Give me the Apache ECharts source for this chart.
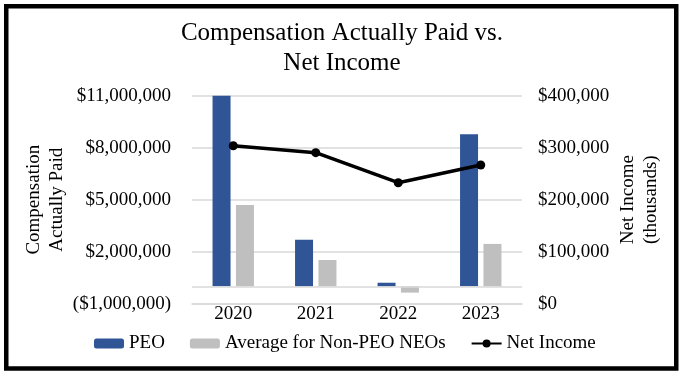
<!DOCTYPE html>
<html>
<head>
<meta charset="utf-8">
<script src="https://cdn.jsdelivr.net/npm/echarts@6/dist/echarts.min.js"></script>
<style>
html,body{margin:0;padding:0;background:#fff;}
#chart{width:681px;height:374px;}
</style>
</head>
<body>
<div id="chart"></div>
<script>
const categories = ['2020', '2021', '2022', '2023'];
const peoValues = [11000000, 2690000, 210000, 8780000];
const neoValues = [4700000, 1520000, -360000, 2450000];
const netIncomeValues = [303800, 290400, 232700, 266700];
const leftTicks = { min: -1000000, max: 11000000, interval: 3000000 };
const rightTicks = { min: 0, max: 400000, interval: 100000 };

const FONT = '"Liberation Serif", "Times New Roman", serif';
const fmtMoney = v => {
  const s = '$' + Math.abs(v).toLocaleString('en-US');
  return v < 0 ? '(' + s + ')' : s;
};
const legendText = { fontFamily: FONT, fontSize: 19, color: '#000' };

const chart = echarts.init(document.getElementById('chart'), null, { renderer: 'canvas' });
chart.setOption({
  animation: false,
  backgroundColor: '#fff',
  textStyle: { fontFamily: FONT, color: '#000' },
  title: {
    text: 'Compensation Actually Paid vs.\nNet Income',
    left: 342, top: 18, textAlign: 'center', padding: 0,
    textStyle: { fontFamily: FONT, fontSize: 25, fontWeight: 'normal', color: '#000', lineHeight: 30 }
  },
  graphic: [{
    type: 'rect', silent: true, z: 100,
    shape: { x: 6.25, y: 6.25, width: 670, height: 362.25 },
    style: { fill: 'none', stroke: '#000', lineWidth: 4.5 }
  }],
  legend: {
    left: 94, top: 334, padding: 0, itemGap: 25,
    itemWidth: 30, itemHeight: 10,
    textStyle: legendText,
    data: [
      { name: 'PEO', textStyle: legendText },
      { name: 'Average for Non-PEO NEOs', textStyle: legendText },
      { name: 'Net Income', textStyle: legendText }
    ]
  },
  grid: { left: 192, right: 159, top: 95.7, bottom: 70.3 },
  xAxis: {
    type: 'category', data: categories,
    axisLine: { onZero: false, lineStyle: { color: '#d9d9d9', width: 1.5 } },
    axisTick: { show: false },
    axisLabel: { fontFamily: FONT, fontSize: 19, color: '#000', margin: 1 }
  },
  yAxis: [{
    type: 'value', min: leftTicks.min, max: leftTicks.max, interval: leftTicks.interval,
    name: 'Compensation\nActually Paid', nameLocation: 'middle', nameRotate: 90, nameGap: 123,
    nameTextStyle: { fontFamily: FONT, fontSize: 19, color: '#000', lineHeight: 23 },
    axisLine: { show: false }, axisTick: { show: false },
    axisLabel: { fontFamily: FONT, fontSize: 19, color: '#000', margin: 21, formatter: fmtMoney },
    splitLine: { lineStyle: { color: '#d9d9d9', width: 1.5 } }
  }, {
    type: 'value', min: rightTicks.min, max: rightTicks.max, interval: rightTicks.interval,
    name: 'Net Income\n(thousands)', nameLocation: 'middle', nameRotate: 90, nameGap: 95,
    nameTextStyle: { fontFamily: FONT, fontSize: 19, color: '#000', lineHeight: 23 },
    axisLine: { show: false }, axisTick: { show: false },
    axisLabel: { fontFamily: FONT, fontSize: 19, color: '#000', margin: 16, formatter: fmtMoney },
    splitLine: { show: false }
  }],
  series: [{
    name: 'PEO', type: 'bar', yAxisIndex: 0, data: peoValues,
    barWidth: 18, barGap: '30%',
    itemStyle: { color: '#2f5597' },
    markLine: {
      silent: true, symbol: 'none', label: { show: false },
      lineStyle: { color: '#d9d9d9', type: 'solid', width: 1.5 },
      data: [{ yAxis: 0 }]
    }
  }, {
    name: 'Average for Non-PEO NEOs', type: 'bar', yAxisIndex: 0, data: neoValues,
    barWidth: 18, barGap: '30%',
    itemStyle: { color: '#bfbfbf' }
  }, {
    name: 'Net Income', type: 'line', yAxisIndex: 1, data: netIncomeValues,
    symbol: 'circle', symbolSize: 9, z: 5,
    lineStyle: { color: '#000', width: 3.5 },
    itemStyle: { color: '#000' }
  }]
});
</script>
</body>
</html>
